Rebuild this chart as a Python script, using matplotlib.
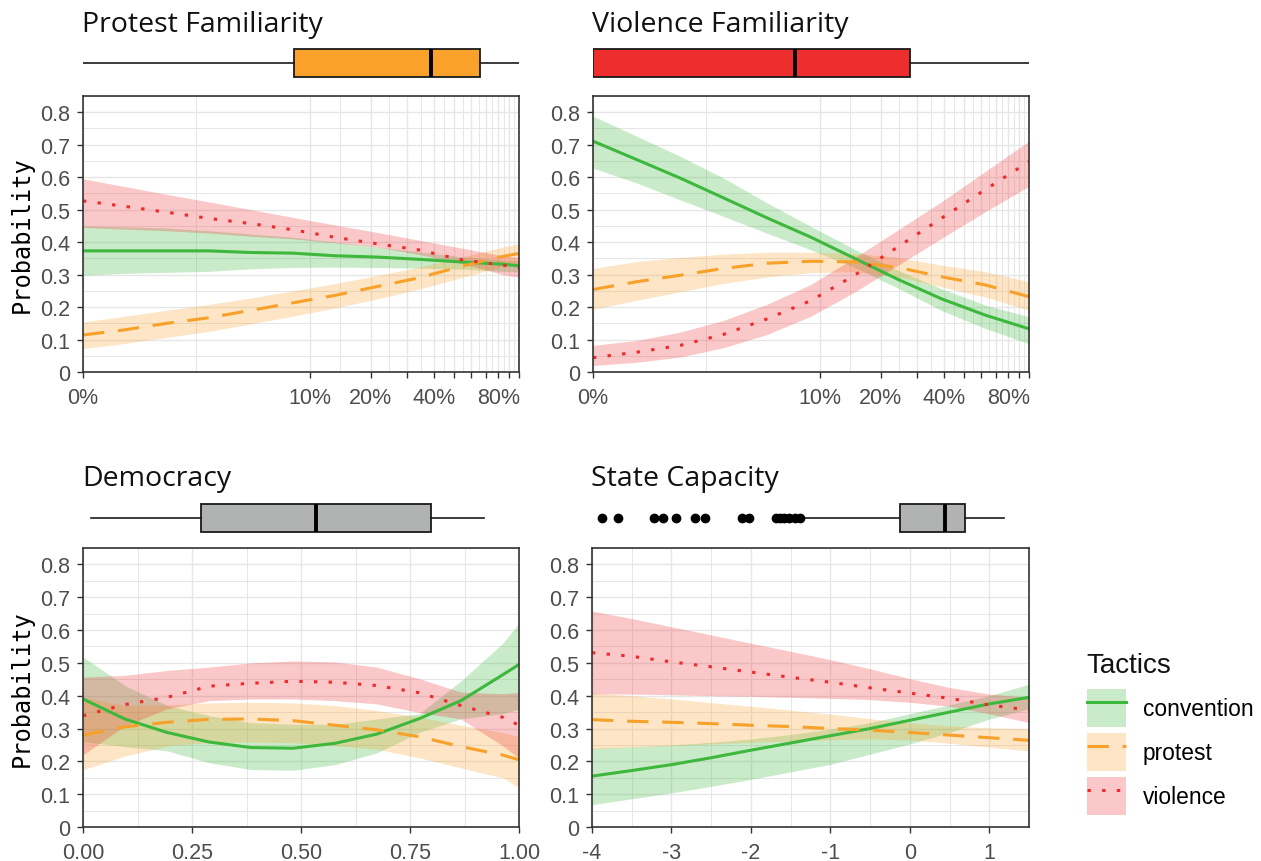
import numpy as np
import matplotlib
matplotlib.use("Agg")
import matplotlib.pyplot as plt
from matplotlib.patches import Patch
from matplotlib.lines import Line2D
from matplotlib.ticker import FixedLocator

# predicted probabilities per tactic, with 95% bands
pf_x = [0, 0.0056, 0.0143, 0.0279, 0.0492, 0.0823, 0.1339, 0.2145, 0.3401, 0.536, 0.8415, 1.0]
pf_conv = [0.373, 0.373, 0.373, 0.373, 0.368, 0.366, 0.358, 0.354, 0.347, 0.339, 0.332, 0.327]
pf_conv_lo = [0.298, 0.304, 0.307, 0.310, 0.318, 0.322, 0.323, 0.322, 0.320, 0.317, 0.310, 0.308]
pf_conv_hi = [0.450, 0.447, 0.443, 0.435, 0.425, 0.415, 0.400, 0.385, 0.370, 0.355, 0.345, 0.342]
pf_prot = [0.114, 0.130, 0.150, 0.167, 0.190, 0.213, 0.236, 0.263, 0.290, 0.325, 0.356, 0.365]
pf_prot_lo = [0.072, 0.088, 0.107, 0.125, 0.148, 0.172, 0.197, 0.225, 0.255, 0.290, 0.325, 0.335]
pf_prot_hi = [0.154, 0.172, 0.190, 0.208, 0.228, 0.250, 0.272, 0.297, 0.323, 0.353, 0.385, 0.395]
pf_viol = [0.527, 0.510, 0.492, 0.473, 0.457, 0.438, 0.415, 0.395, 0.376, 0.346, 0.329, 0.322]
pf_viol_lo = [0.445, 0.440, 0.435, 0.428, 0.418, 0.410, 0.398, 0.385, 0.362, 0.335, 0.300, 0.292]
pf_viol_hi = [0.595, 0.571, 0.547, 0.524, 0.500, 0.476, 0.453, 0.430, 0.406, 0.382, 0.358, 0.352]

vf_x = [0, 0.0059, 0.0152, 0.0299, 0.0534, 0.0905, 0.1494, 0.2429, 0.3913, 0.6267, 1.0]
vf_conv = [0.711, 0.654, 0.597, 0.536, 0.474, 0.415, 0.350, 0.285, 0.225, 0.175, 0.133]
vf_conv_lo = [0.628, 0.582, 0.530, 0.479, 0.427, 0.376, 0.322, 0.258, 0.189, 0.134, 0.087]
vf_conv_hi = [0.788, 0.726, 0.664, 0.597, 0.520, 0.448, 0.378, 0.313, 0.256, 0.206, 0.170]
vf_prot = [0.254, 0.278, 0.298, 0.319, 0.335, 0.341, 0.339, 0.322, 0.293, 0.268, 0.232]
vf_prot_lo = [0.193, 0.221, 0.247, 0.273, 0.293, 0.306, 0.309, 0.293, 0.262, 0.231, 0.190]
vf_prot_hi = [0.319, 0.340, 0.353, 0.363, 0.369, 0.369, 0.365, 0.353, 0.329, 0.309, 0.278]
vf_viol = [0.044, 0.061, 0.082, 0.116, 0.164, 0.220, 0.298, 0.386, 0.474, 0.562, 0.648]
vf_viol_lo = [0.020, 0.030, 0.046, 0.075, 0.116, 0.172, 0.246, 0.329, 0.412, 0.494, 0.572]
vf_viol_hi = [0.082, 0.097, 0.123, 0.159, 0.209, 0.270, 0.352, 0.438, 0.525, 0.618, 0.711]

dem_x = [0, 0.096, 0.193, 0.289, 0.385, 0.482, 0.578, 0.674, 0.771, 0.867, 0.963, 1.0]
dem_conv = [0.390, 0.329, 0.288, 0.259, 0.242, 0.240, 0.255, 0.283, 0.330, 0.385, 0.464, 0.495]
dem_conv_lo = [0.260, 0.245, 0.232, 0.196, 0.175, 0.173, 0.190, 0.226, 0.288, 0.330, 0.345, 0.360]
dem_conv_hi = [0.518, 0.431, 0.370, 0.339, 0.318, 0.313, 0.313, 0.329, 0.345, 0.445, 0.560, 0.620]
dem_prot = [0.280, 0.305, 0.319, 0.328, 0.329, 0.324, 0.310, 0.296, 0.275, 0.245, 0.219, 0.205]
dem_prot_lo = [0.175, 0.216, 0.247, 0.257, 0.259, 0.257, 0.247, 0.237, 0.211, 0.180, 0.150, 0.120]
dem_prot_hi = [0.395, 0.370, 0.372, 0.378, 0.380, 0.378, 0.370, 0.355, 0.335, 0.310, 0.288, 0.275]
dem_viol = [0.339, 0.373, 0.395, 0.429, 0.438, 0.444, 0.441, 0.431, 0.409, 0.370, 0.334, 0.310]
dem_viol_lo = [0.220, 0.308, 0.360, 0.385, 0.390, 0.390, 0.385, 0.375, 0.349, 0.329, 0.247, 0.210]
dem_viol_hi = [0.457, 0.462, 0.477, 0.487, 0.500, 0.506, 0.503, 0.487, 0.452, 0.411, 0.406, 0.410]

sc_x = [-4, -3.5, -3, -2.5, -2, -1.5, -1, -0.5, 0, 0.5, 1, 1.5]
sc_conv = [0.155, 0.172, 0.190, 0.211, 0.234, 0.256, 0.278, 0.300, 0.325, 0.350, 0.375, 0.395]
sc_conv_lo = [0.068, 0.086, 0.104, 0.124, 0.145, 0.168, 0.191, 0.222, 0.253, 0.288, 0.329, 0.360]
sc_conv_hi = [0.240, 0.244, 0.250, 0.258, 0.268, 0.282, 0.298, 0.318, 0.345, 0.372, 0.400, 0.435]
sc_prot = [0.327, 0.322, 0.319, 0.315, 0.310, 0.306, 0.300, 0.295, 0.288, 0.280, 0.272, 0.264]
sc_prot_lo = [0.238, 0.243, 0.248, 0.253, 0.258, 0.262, 0.266, 0.268, 0.265, 0.255, 0.243, 0.232]
sc_prot_hi = [0.409, 0.400, 0.390, 0.379, 0.368, 0.356, 0.344, 0.330, 0.318, 0.308, 0.302, 0.300]
sc_viol = [0.531, 0.520, 0.503, 0.488, 0.472, 0.456, 0.441, 0.424, 0.408, 0.392, 0.372, 0.356]
sc_viol_lo = [0.406, 0.405, 0.403, 0.400, 0.398, 0.395, 0.392, 0.388, 0.380, 0.368, 0.345, 0.318]
sc_viol_hi = [0.658, 0.635, 0.610, 0.585, 0.560, 0.535, 0.510, 0.482, 0.452, 0.425, 0.405, 0.395]

# distribution summaries: whisker low, q1, median, q3, whisker high
pf_box = [0.0, 0.083, 0.39, 0.66, 1.0]
vf_box = [0.0, 0.0, 0.0745, 0.278, 1.0]
dem_box = [0.019, 0.271, 0.534, 0.798, 0.92]
sc_box = [-1.32, -0.118, 0.443, 0.69, 1.19]
sc_outliers = [-3.87, -3.67, -3.22, -3.11, -2.94, -2.70, -2.58, -2.11, -2.02,
               -1.69, -1.63, -1.58, -1.52, -1.45, -1.38]

tactics = ["convention", "protest", "violence"]
line_cols = ["#3DB83D", "#F7A12A", "#EE2A2A"]
fill_cols = ["#3DB83D", "#F9A430", "#EE3A3A"]
styles = ["-", (0, (7, 4.5)), (0, (1.1, 3.7))]

W, H = 1261, 862
fig = plt.figure(figsize=(W / 100, H / 100), dpi=100)

def pix_axes(left, top, right, bottom):
    return fig.add_axes([left / W, 1 - bottom / H, (right - left) / W, (bottom - top) / H])

def fwd(x):
    return np.log(np.asarray(x, dtype=float) + 0.01)

def inv(y):
    return np.exp(np.asarray(y, dtype=float)) - 0.01

grid_col = "#E6E6E6"

def style_panel(ax, xmaj, xmin, xlabels, xlim):
    ax.set_xlim(*xlim)
    ax.set_ylim(0, 0.85)
    ax.xaxis.set_major_locator(FixedLocator(xmaj))
    ax.xaxis.set_minor_locator(FixedLocator(xmin))
    ax.set_xticklabels(xlabels)
    yt = np.round(np.arange(0, 0.81, 0.1), 2)
    ax.yaxis.set_major_locator(FixedLocator(yt))
    ax.yaxis.set_minor_locator(FixedLocator(np.round(np.arange(0.05, 0.86, 0.1), 2)))
    ax.set_yticklabels(["0"] + [f"{v:.1f}" for v in yt[1:]])
    ax.grid(which="major", color=grid_col, lw=1.0)
    ax.grid(which="minor", color=grid_col, lw=0.7)
    ax.set_axisbelow(True)
    ax.tick_params(which="major", length=4, width=1, color="#333333",
                   labelcolor="#4D4D4D", labelsize=15.5)
    ax.tick_params(axis="x", which="major", pad=7)
    ax.tick_params(axis="y", which="major", pad=5)
    ax.tick_params(which="minor", length=0)
    for s in ax.spines.values():
        s.set_color("#333333")
        s.set_linewidth(1.2)
    for lab in ax.get_xticklabels() + ax.get_yticklabels():
        lab.set_fontfamily("Liberation Sans")

def draw_curves(ax, x, series):
    for (mid, lo, hi), fc in zip(series, fill_cols):
        ax.fill_between(x, lo, hi, color=fc, alpha=0.28, lw=0)
    for (mid, lo, hi), lc, ls in zip(series, line_cols, styles):
        ax.plot(x, mid, color=lc, ls=ls, lw=2.2)

def draw_box(ax, stats, fill, xlim, fliers=()):
    lo, q1, med, q3, hi = stats
    ax.bxp([dict(whislo=lo, q1=q1, med=med, q3=q3, whishi=hi, fliers=list(fliers))],
           positions=[0], orientation="horizontal", widths=1.4, patch_artist=True,
           showcaps=False,
           boxprops=dict(facecolor=fill, edgecolor="#1A1A1A", lw=1.3),
           medianprops=dict(color="black", lw=2.8),
           whiskerprops=dict(color="#1A1A1A", lw=1.2),
           flierprops=dict(marker="o", markerfacecolor="black", markeredgecolor="black",
                           markersize=6))
    ax.set_xlim(*xlim)
    ax.set_ylim(-1, 1)
    ax.axis("off")

title_kw = dict(fontsize=20.5, family="Open Sans", color="#111111", va="baseline", ha="left")
ylab_kw = dict(fontsize=17, family="DejaVu Sans Mono", rotation=90, ha="center", va="center")

# familiarity panels (log(x + 1%) axis)
fam_maj = [0, 0.1, 0.2, 0.3, 0.4, 0.5, 0.6, 0.7, 0.8, 0.9, 1.0]
fam_min = [float(inv((fwd(a) + fwd(b)) / 2)) for a, b in zip(fam_maj[:-1], fam_maj[1:])]
fam_lab = ["0%", "10%", "20%", "", "40%", "", "", "", "80%", "", ""]

top_panels = [
    ("Protest Familiarity", 83, 519, pf_x, pf_box, "#F9A12B",
     [(pf_conv, pf_conv_lo, pf_conv_hi), (pf_prot, pf_prot_lo, pf_prot_hi), (pf_viol, pf_viol_lo, pf_viol_hi)]),
    ("Violence Familiarity", 593, 1029, vf_x, vf_box, "#EE2D2E",
     [(vf_conv, vf_conv_lo, vf_conv_hi), (vf_prot, vf_prot_lo, vf_prot_hi), (vf_viol, vf_viol_lo, vf_viol_hi)]),
]
for name, left, right, xs, box, bcol, series in top_panels:
    ax = pix_axes(left, 97, right, 373)
    ax.set_xscale("function", functions=(fwd, inv))
    draw_curves(ax, xs, series)
    style_panel(ax, fam_maj, fam_min, fam_lab, (0, 1))
    bx = pix_axes(left, 44, right, 84)
    bx.set_xscale("function", functions=(fwd, inv))
    draw_box(bx, box, bcol, (0, 1))
    fig.text((left - 1) / W, 1 - 32 / H, name, **title_kw)
fig.text(22 / W, 1 - 235 / H, "Probability", **ylab_kw)

# democracy
ax = pix_axes(83, 549, 519, 828)
draw_curves(ax, dem_x, [(dem_conv, dem_conv_lo, dem_conv_hi), (dem_prot, dem_prot_lo, dem_prot_hi),
                        (dem_viol, dem_viol_lo, dem_viol_hi)])
style_panel(ax, [0, 0.25, 0.5, 0.75, 1.0], [0.125, 0.375, 0.625, 0.875],
            ["0.00", "0.25", "0.50", "0.75", "1.00"], (0, 1))
bx = pix_axes(83, 499, 519, 539)
draw_box(bx, dem_box, "#B1B3B3", (0, 1))
fig.text(82 / W, 1 - 486 / H, "Democracy", **title_kw)
fig.text(22 / W, 1 - 689 / H, "Probability", **ylab_kw)

# state capacity
ax = pix_axes(592, 549, 1029, 828)
draw_curves(ax, sc_x, [(sc_conv, sc_conv_lo, sc_conv_hi), (sc_prot, sc_prot_lo, sc_prot_hi),
                       (sc_viol, sc_viol_lo, sc_viol_hi)])
style_panel(ax, [-4, -3, -2, -1, 0, 1], [-3.5, -2.5, -1.5, -0.5, 0.5, 1.5],
            ["-4", "-3", "-2", "-1", "0", "1"], (-4, 1.5))
bx = pix_axes(592, 499, 1029, 539)
draw_box(bx, sc_box, "#B1B3B3", (-4, 1.5), sc_outliers)
fig.text(591 / W, 1 - 486 / H, "State Capacity", **title_kw)

# legend: title as its own text, keys below
fig.text(1086 / W, 1 - 666 / H, "Tactics", fontsize=20, family="Liberation Sans",
         color="#111111", ha="left", va="center")
handles = [(Patch(facecolor=fc, alpha=0.28, edgecolor="none"),
            Line2D([], [], color=lc, ls=ls, lw=2.2))
           for fc, lc, ls in zip(fill_cols, line_cols, styles)]
fig.legend(handles, tactics, loc="upper left",
           bbox_to_anchor=(1087 / W, 1 - 690 / H), frameon=False,
           prop=dict(family="Liberation Sans", size=16.4),
           handlelength=1.71, handleheight=2.2, labelspacing=0.25,
           handletextpad=0.75, borderpad=0, borderaxespad=0)

fig.savefig("out.png", dpi=100)
